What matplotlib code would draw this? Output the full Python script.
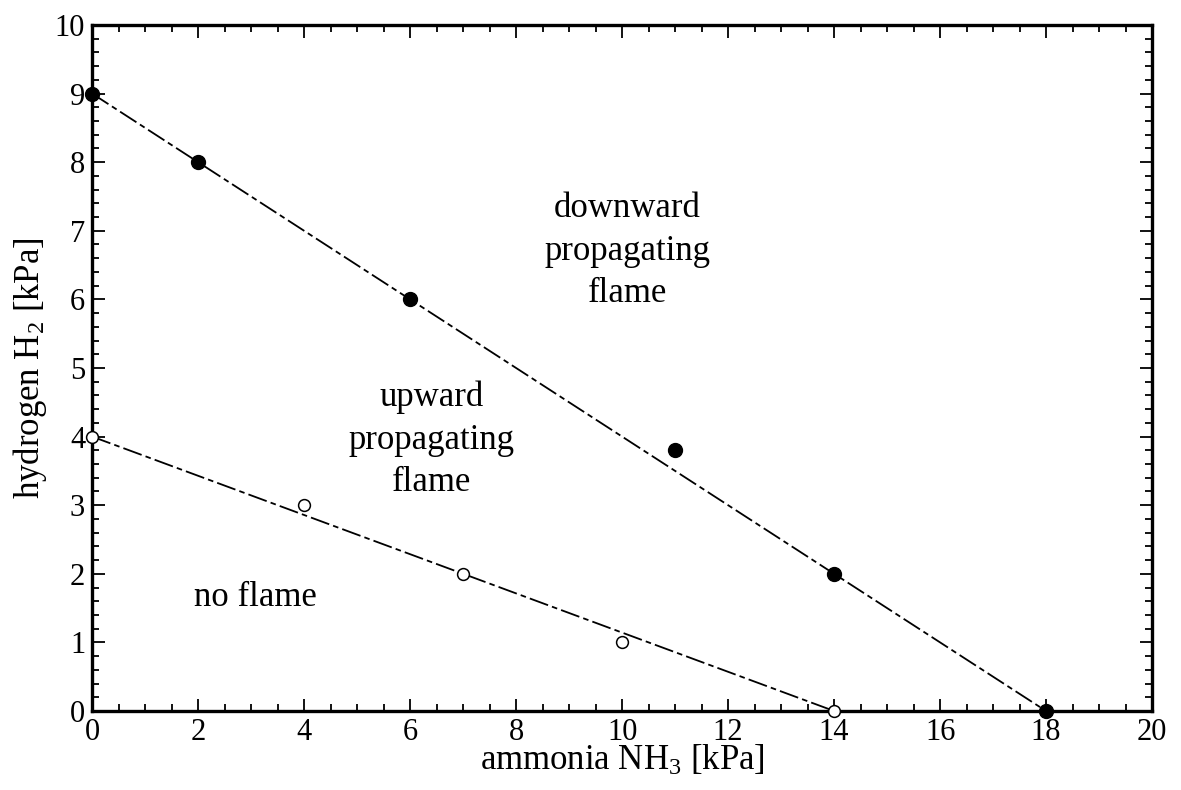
import matplotlib
matplotlib.use("Agg")
import matplotlib.pyplot as plt
from matplotlib.ticker import MultipleLocator

plt.rcParams["font.family"] = ["Liberation Serif", "DejaVu Serif"]
plt.rcParams["mathtext.fontset"] = "custom"
plt.rcParams["mathtext.rm"] = "Liberation Serif"
plt.rcParams["mathtext.default"] = "regular"
plt.rcParams["lines.scale_dashes"] = False

# downward propagating flame limit (filled circles)
down_nh3 = [0, 2, 6, 11, 14, 18]
down_h2 = [9, 8, 6, 3.8, 2, 0]
down_fit_x = [0, 18]
down_fit_y = [9, 0]

# upward propagating flame limit (open circles)
up_nh3 = [0, 4, 7, 10, 14]
up_h2 = [4, 3, 2, 1, 0]
up_fit_x = [0, 14]
up_fit_y = [4, 0]

fig = plt.figure(figsize=(11.81, 7.90), dpi=100)
ax = fig.add_axes([0.078, 0.100, 0.8975, 0.8684])

dash = (0, (14, 3, 4, 3))
ax.plot(down_fit_x, down_fit_y, color="black", lw=1.3, linestyle=dash,
        zorder=2, clip_on=False)
ax.plot(up_fit_x, up_fit_y, color="black", lw=1.3, linestyle=dash,
        zorder=2, clip_on=False)

ax.plot(down_nh3, down_h2, "o", color="black", markersize=10,
        zorder=4, clip_on=False)
ax.plot(up_nh3, up_h2, "o", markerfacecolor="white", markeredgecolor="black",
        markeredgewidth=1.1, markersize=8.5, zorder=4, clip_on=False)

ax.text(10.1, 6.7, "downward\npropagating\nflame", ha="center", va="center",
        fontsize=25, linespacing=1.38)
ax.text(6.4, 3.95, "upward\npropagating\nflame", ha="center", va="center",
        fontsize=25, linespacing=1.38)
ax.text(3.08, 1.65, "no flame", ha="center", va="center", fontsize=25)

ax.set_xlim(0, 20)
ax.set_ylim(0, 10)
ax.xaxis.set_major_locator(MultipleLocator(2))
ax.xaxis.set_minor_locator(MultipleLocator(0.5))
ax.yaxis.set_major_locator(MultipleLocator(1))
ax.yaxis.set_minor_locator(MultipleLocator(0.2))
ax.tick_params(which="both", direction="in", top=True, right=True,
               width=1.3, labelsize=22)
ax.tick_params(which="major", length=9, pad=5)
ax.tick_params(which="minor", length=5)
for s in ax.spines.values():
    s.set_linewidth(2.4)

ax.set_xlabel("ammonia NH$_3$ [kPa]", fontsize=25, labelpad=-2)
ax.set_ylabel("hydrogen H$_2$ [kPa]", fontsize=25, labelpad=4)

fig.savefig("out.png", dpi=100)
